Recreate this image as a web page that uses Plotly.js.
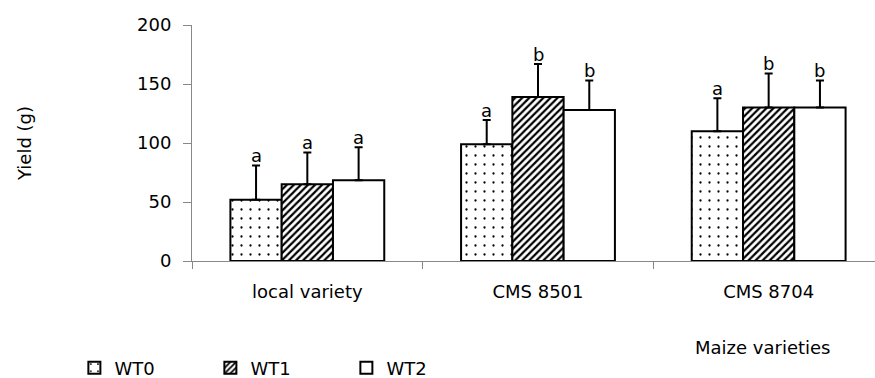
<!DOCTYPE html>
<html>
<head>
<meta charset="utf-8">
<script src="https://cdn.plot.ly/plotly-3.0.1.min.js"></script>
<style>html,body{margin:0;padding:0;background:#fff;}#chart{width:875px;height:378px;}</style>
</head>
<body>
<div id="chart"></div>
<script>
const categories = ['local variety', 'CMS 8501', 'CMS 8704'];
const seriesNames = ['WT0', 'WT1', 'WT2'];
const wt0 = [52, 99, 110];
const wt1 = [65, 139, 130];
const wt2 = [68.5, 128, 130];
const err0 = [29, 20.5, 28];
const err1 = [27, 28, 29];
const err2 = [28, 25, 23];
const letters0 = ['a', 'a', 'a'];
const letters1 = ['a', 'b', 'b'];
const letters2 = ['a', 'b', 'b'];
const yTicks = [0, 50, 100, 150, 200];

const FONT = 'DejaVu Sans, Verdana, sans-serif';
const values = [wt0, wt1, wt2];
const errs = [err0, err1, err2];
const letters = [letters0, letters1, letters2];
const patterns = [
  {shape: '.', size: 9, solidity: 0.05, fgcolor: '#000', bgcolor: '#fff', fillmode: 'replace'},
  {shape: '/', size: 5, solidity: 0.45, fgcolor: '#000', bgcolor: '#fff', fillmode: 'replace'},
  {shape: '', bgcolor: '#fff'}
];
const bargap = 0.333;

const traces = values.map((v, j) => ({
  type: 'bar',
  name: seriesNames[j],
  x: categories,
  y: v,
  marker: {
    color: '#fff',
    pattern: patterns[j],
    line: {color: '#000', width: 2}
  },
  error_y: {
    type: 'data', symmetric: false,
    array: errs[j], arrayminus: errs[j].map(() => 0),
    color: '#000', thickness: 2, width: 4
  },
  hoverinfo: 'skip'
}));

const barW = (1 - bargap) / 3;
const annotations = [];
values.forEach((v, j) => {
  v.forEach((val, i) => {
    annotations.push({
      xref: 'x', yref: 'y',
      x: i + (j - 1) * barW,
      y: val + errs[j][i],
      text: letters[j][i],
      showarrow: false,
      yanchor: 'bottom',
      yshift: -3,
      font: {family: FONT, size: 18, color: '#000'}
    });
  });
});
annotations.push({
  xref: 'paper', yref: 'paper',
  x: (762 - 192) / 683, y: (261 - 347) / 236,
  xanchor: 'center', yanchor: 'middle',
  text: 'Maize varieties', showarrow: false,
  font: {family: FONT, size: 18, color: '#000'}
});

const layout = {
  width: 875, height: 378,
  margin: {l: 192, r: 0, t: 25, b: 117},
  paper_bgcolor: '#fff', plot_bgcolor: '#fff',
  barmode: 'group', bargap: bargap, bargroupgap: 0,
  font: {family: FONT, size: 18, color: '#000'},
  showlegend: true,
  legend: {
    orientation: 'h', xref: 'container', yref: 'container',
    x: 0.085, y: 10 / 378, xanchor: 'left', yanchor: 'middle',
    entrywidth: 91, entrywidthmode: 'pixels',
    font: {family: FONT, size: 18, color: '#000'},
    traceorder: 'normal'
  },
  xaxis: {
    type: 'category',
    range: [-0.5, 2.461],
    showline: true, linecolor: '#888', linewidth: 1,
    ticks: 'outside', tickson: 'boundaries', ticklen: 7, tickcolor: '#888',
    showgrid: false, zeroline: false,
    ticklabelstandoff: 14,
    tickfont: {family: FONT, size: 18, color: '#000'},
    fixedrange: true
  },
  yaxis: {
    range: [0, 200],
    tickvals: yTicks,
    ticktext: yTicks.map(String),
    showline: true, linecolor: '#888', linewidth: 1,
    ticks: 'outside', ticklen: 8, tickcolor: '#888',
    showgrid: false, zeroline: false,
    ticklabelstandoff: 8,
    tickfont: {family: FONT, size: 18, color: '#000'},
    title: {text: 'Yield (g)', standoff: 100, font: {family: FONT, size: 18, color: '#000'}},
    fixedrange: true
  },
  annotations: annotations
};

Plotly.newPlot('chart', traces, layout, {staticPlot: true, displayModeBar: false});
</script>
</body>
</html>
